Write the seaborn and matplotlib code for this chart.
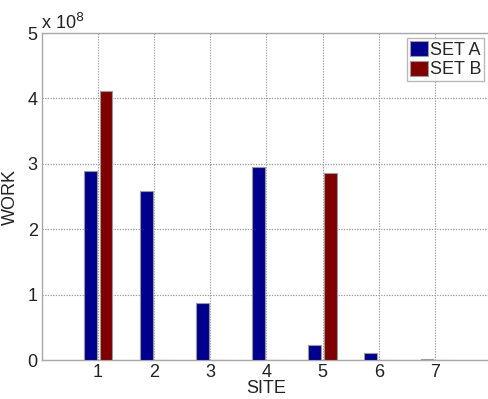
import matplotlib
matplotlib.use("Agg")
import matplotlib.pyplot as plt
import seaborn as sns
import pandas as pd
import numpy as np
from matplotlib.ticker import FuncFormatter, MultipleLocator

sites = [1, 2, 3, 4, 5, 6, 7]
set_a = [2.89e8, 2.59e8, 0.87e8, 2.95e8, 0.23e8, 0.11e8, 0.02e8]
set_b = [4.12e8, 0, 0, 0, 2.86e8, 0, 0]
series_names = ["SET A", "SET B"]
colors = ["#00008F", "#800000"]

df = pd.DataFrame({
    "SITE": sites * 2,
    "WORK": set_a + set_b,
    "SET": [series_names[0]] * len(sites) + [series_names[1]] * len(sites),
})

sns.set_style("white")
plt.rcParams["font.family"] = ["Liberation Sans", "DejaVu Sans"]

fig = plt.figure(figsize=(4.88, 3.99), dpi=100)
ax = fig.add_axes([0.086, 0.0977, 0.92, 0.8195])

sns.barplot(data=df, x="SITE", y="WORK", hue="SET", palette=colors,
            native_scale=True, width=0.56, gap=0.18, ax=ax,
            edgecolor="#9a9a9a", linewidth=0.8, saturation=1, zorder=3)

ax.set_xlim(0, 8)
ax.set_ylim(0, 5e8)
ax.xaxis.set_major_locator(MultipleLocator(1))
ax.yaxis.set_major_locator(MultipleLocator(1e8))
ax.xaxis.set_major_formatter(FuncFormatter(lambda v, p: f"{int(round(v))}" if 1 <= round(v) <= 7 else ""))
ax.yaxis.set_major_formatter(FuncFormatter(lambda v, p: f"{int(round(v / 1e8))}"))
ax.grid(True, linestyle=(0, (1.2, 1.2)), color="#9a9a9a", linewidth=0.8, zorder=0)
ax.set_axisbelow(True)
for s in ax.spines.values():
    s.set_color("#a8a8a8")
    s.set_linewidth(1.0)
ax.tick_params(axis="both", labelsize=13, length=0, pad=3, colors="#222222")
ax.set_xlabel("SITE", fontsize=13, labelpad=-1, color="#222222")
ax.set_ylabel("WORK", fontsize=13, labelpad=6, color="#222222")
ax.text(-0.002, 1.0, "x 10$^{8}$", transform=ax.transAxes, fontsize=13,
        ha="left", va="bottom", color="#222222")

leg = ax.legend(loc="upper right", bbox_to_anchor=(0.997, 1.0), fontsize=13,
                frameon=True, fancybox=False,
                handlelength=1.0, handleheight=0.9, handletextpad=0.1,
                borderpad=0.15, labelspacing=0.1, borderaxespad=0.3,
                edgecolor="#a8a8a8", title=None)
leg.get_frame().set_linewidth(1.0)
for h in leg.legend_handles:
    h.set_edgecolor("#9a9a9a")

fig.savefig("out.png", dpi=100)
